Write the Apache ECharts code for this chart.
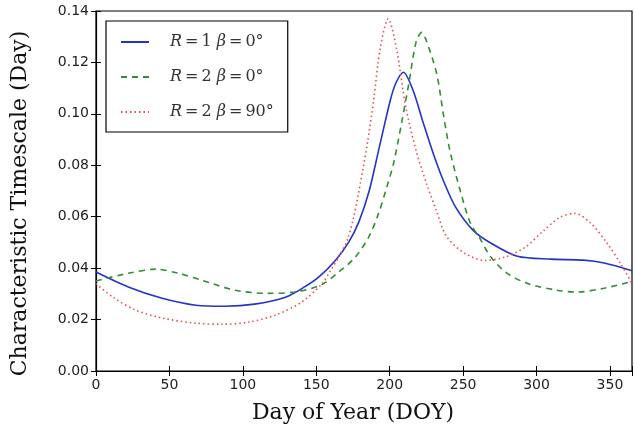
<!DOCTYPE html>
<html>
<head>
<meta charset="utf-8">
<script src="https://cdn.jsdelivr.net/npm/echarts@6/dist/echarts.min.js"></script>
<style>
  html, body { margin: 0; padding: 0; background: #fff; }
  #chart { width: 635px; height: 437px; }
</style>
</head>
<body>
<div id="chart"></div>
<script>
// 特征时间尺度随年积日变化
const xTicks = [0, 50, 100, 150, 200, 250, 300, 350];
const yTicks = [0, 0.02, 0.04, 0.06, 0.08, 0.10, 0.12, 0.14];

const names = ['R=1 β=0°', 'R=2 β=0°', 'R=2 β=90°'];

// [DOY, timescale]
const r1b0 = [[0, 0.0385], [22, 0.0327], [45, 0.0283], [68, 0.0256], [88, 0.0252], [108, 0.026],
    [129, 0.0287], [142, 0.0327], [151.8, 0.0366], [163, 0.043], [172, 0.050], [179, 0.058],
    [186, 0.070], [192.4, 0.0857], [200.3, 0.105], [204, 0.1117], [209.3, 0.1162], [216, 0.109],
    [223, 0.0962], [229.7, 0.0845], [236.5, 0.0741], [245, 0.0636], [256.8, 0.0547], [269, 0.0497],
    [287, 0.0446], [310, 0.0435], [332, 0.0431], [346, 0.042], [365, 0.039]];

const r2b0 = [[0, 0.035], [22, 0.038], [41, 0.0396], [56, 0.038], [72, 0.0353], [95, 0.0314],
    [117, 0.0302], [135, 0.0307], [153, 0.0334], [165.3, 0.0385], [176.6, 0.0443], [185.6, 0.052],
    [192.4, 0.0612], [198, 0.0715], [202.6, 0.0807], [208, 0.0962], [213, 0.1117], [218, 0.128],
    [221.8, 0.1317], [225, 0.1284], [232, 0.1156], [236.5, 0.100], [241, 0.0857], [248, 0.0702],
    [255, 0.0574], [261, 0.052], [269, 0.0442], [280, 0.038], [294, 0.034], [314, 0.0314],
    [328, 0.0307], [346, 0.0322], [365, 0.0348]];

const r2b90 = [[0, 0.034], [11.5, 0.0287], [27, 0.0237], [45, 0.0206], [68, 0.0186], [86, 0.0182],
    [104, 0.019], [122, 0.0217], [140, 0.0268], [154, 0.034], [159.7, 0.039], [165.3, 0.0443],
    [171, 0.0508], [175.5, 0.0599], [180, 0.073], [184.5, 0.0875], [189, 0.105], [193.6, 0.1257],
    [199, 0.137], [204.6, 0.1255], [211, 0.1025], [218, 0.0857], [225, 0.073], [231.7, 0.0625],
    [238.5, 0.0525], [251, 0.0458], [265, 0.043], [278, 0.0442], [292, 0.048], [305, 0.0547],
    [316, 0.0598], [326, 0.0613], [337, 0.0574], [348, 0.0497], [357, 0.042], [365, 0.034]];

const legendRich = {
    'R=1 β=0°': '{i|R}{e|=}{n|1}{s| }{i|β}{e|=}{n|0°}',
    'R=2 β=0°': '{i|R}{e|=}{n|2}{s| }{i|β}{e|=}{n|0°}',
    'R=2 β=90°': '{i|R}{e|=}{n|2}{s| }{i|β}{e|=}{n|90°}'
};

const tickFont = { fontFamily: 'DejaVu Sans', fontSize: 14, color: '#222' };
const titleFont = { fontFamily: 'DejaVu Serif', fontSize: 22, color: '#111' };
const mathFont = { fontFamily: 'DejaVu Serif', fontSize: 16, color: '#333' };

const lineSeries = (name, data, color, type, width) => ({
    name: name,
    type: 'line',
    data: data,
    smooth: 0.3,
    symbol: 'none',
    lineStyle: { color: color, width: width, type: type },
    itemStyle: { color: color },
    z: 3
});

const option = {
    backgroundColor: '#fff',
    animation: false,
    grid: {
        left: 96, right: 1, top: 11, bottom: 66,
        show: true, borderColor: '#000', borderWidth: 1.2, backgroundColor: 'transparent'
    },
    legend: {
        orient: 'vertical',
        left: 106, top: 21,
        padding: [13, 14, 12, 14],
        itemWidth: 28, itemHeight: 14, itemGap: 19,
        backgroundColor: '#fff',
        borderColor: '#000', borderWidth: 1.2, borderRadius: 0,
        itemStyle: { opacity: 0 },
        data: names,
        formatter: n => legendRich[n],
        textStyle: {
            padding: [0, 0, 0, 16],
            rich: {
                i: { ...mathFont, fontStyle: 'italic' },
                n: mathFont,
                e: { ...mathFont, padding: [0, 3, 0, 3] },
                s: mathFont
            }
        }
    },
    xAxis: [{
        type: 'value', min: 0, max: 365, interval: 50,
        name: 'Day of Year (DOY)', nameLocation: 'middle', nameGap: 31,
        nameTextStyle: { ...titleFont, padding: [0, 22, 0, 0] },
        axisLine: { show: true, lineStyle: { color: '#000', width: 1.2 } },
        axisTick: { show: true, inside: true, length: 5, lineStyle: { color: '#000' } },
        axisLabel: {
            margin: 7, ...tickFont,
            formatter: v => (xTicks.includes(v) ? String(v) : '')
        },
        splitLine: { show: false }
    }, {
        type: 'value', min: 0, max: 365, interval: 50, position: 'top',
        axisLine: { show: false },
        axisTick: { show: true, inside: true, length: 5, lineStyle: { color: '#000' } },
        axisLabel: { show: false },
        splitLine: { show: false }
    }],
    yAxis: [{
        type: 'value', min: 0, max: 0.14, interval: 0.02,
        name: 'Characteristic Timescale (Day)', nameLocation: 'middle', nameGap: 65,
        nameTextStyle: { ...titleFont, padding: [0, 25, 0, 0] },
        axisLine: { show: true, lineStyle: { color: '#000', width: 1.2 } },
        axisTick: { show: true, inside: true, length: 5, lineStyle: { color: '#000' } },
        axisLabel: {
            margin: 7, ...tickFont,
            formatter: v => {
                const t = yTicks.find(y => Math.abs(y - v) < 1e-9);
                return t === undefined ? '' : t.toFixed(2);
            }
        },
        splitLine: { show: false }
    }, {
        type: 'value', min: 0, max: 0.14, interval: 0.02, position: 'right',
        axisLine: { show: false },
        axisTick: { show: true, inside: true, length: 5, lineStyle: { color: '#000' } },
        axisLabel: { show: false },
        splitLine: { show: false }
    }],
    series: [
        lineSeries(names[0], r1b0, '#2433c8', 'solid', 1.6),
        lineSeries(names[1], r2b0, '#2e8f2e', [6, 5], 1.6),
        lineSeries(names[2], r2b90, '#ee4a4a', [1.5, 3], 1.6)
    ]
};

const chart = echarts.init(document.getElementById('chart'), null, { renderer: 'canvas' });
chart.setOption(option);
</script>
</body>
</html>
